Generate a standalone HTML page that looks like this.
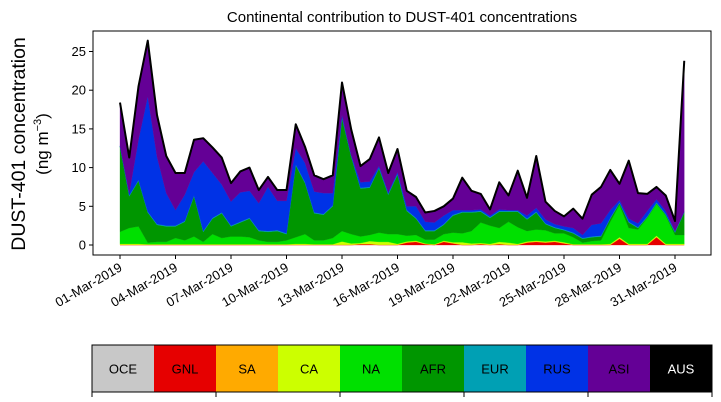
<!DOCTYPE html>
<html><head><meta charset="utf-8"><style>
body{margin:0;background:#fff}
svg{display:block;font-family:"Liberation Sans","DejaVu Sans",sans-serif}
</style></head><body>
<svg id="chart" width="721" height="402" viewBox="0 0 721 402">
<text x="402" y="22" font-size="15" text-anchor="middle">Continental contribution to DUST-401 concentrations</text>
<g transform="translate(25,144) rotate(-90)">
<text x="0" y="0" font-size="19.5" text-anchor="middle">DUST-401 concentration</text>
<text x="0" y="23" font-size="17" text-anchor="middle">(ng m<tspan font-size="11" dy="-7">−3</tspan><tspan dy="7">)</tspan></text>
</g>
<g id="plot"></g>
<g id="cbar"></g>
</svg>
<script>
const dayLabels=["01-Mar-2019","04-Mar-2019","07-Mar-2019","10-Mar-2019","13-Mar-2019","16-Mar-2019","19-Mar-2019","22-Mar-2019","25-Mar-2019","28-Mar-2019","31-Mar-2019"];
const yTicks=[0,5,10,15,20,25];
const regions=["OCE","GNL","SA","CA","NA","AFR","EUR","RUS","ASI","AUS"];
const regionColors=["#c8c8c8","#e60000","#ffaa00","#ccff00","#00e000","#009600","#00a0b4","#0032e6","#640096","#000000"];
const GNL=[0,0,0,0,0,0,0,0,0,0,0,0,0,0,0,0,0,0,0,0,0,0,0,0,0,0,0.1,0.1,0,0,0,0.3,0.4,0.1,0,0.4,0.2,0,0,0.1,0,0.1,0,0,0.3,0.4,0.3,0.4,0.2,0,0,0,0,0,0.8,0,0,0,1.0,0,0,0];
const SA=[0.05,0.05,0.05,0.05,0.05,0.05,0.05,0.05,0.05,0.05,0.05,0.05,0.05,0.05,0.05,0.05,0.05,0.05,0.05,0.05,0.05,0.05,0.05,0.05,0.05,0.05,0.05,0.05,0.05,0.05,0.05,0.05,0.05,0.05,0.05,0.05,0.05,0.05,0.05,0.05,0.05,0.05,0.05,0.05,0.05,0.05,0.05,0.05,0.05,0.05,0.05,0.05,0.05,0.05,0.05,0.05,0.05,0.05,0.05,0.05,0.05,0.05];
const CA=[0.1,0.1,0.1,0.05,0.05,0.05,0.05,0.05,0.05,0.05,0.05,0.05,0.05,0.05,0.05,0.05,0.05,0.05,0.05,0.1,0.1,0.05,0.05,0.05,0.4,0.15,0.1,0.35,0.35,0.35,0.1,0.1,0.1,0.05,0.05,0.1,0.1,0.3,0.15,0.1,0.1,0.25,0.25,0.1,0.1,0.1,0.1,0.1,0.1,0.05,0.05,0.05,0.05,0.1,0.15,0.1,0.1,0.1,0.15,0.1,0.1,0.1];
const NA=[1.55,2.05,2.25,0.2,0.3,0.3,0.8,0.5,1.0,0.3,1.3,0.8,1.0,1.0,0.9,0.5,0.3,0.3,0.5,0.85,1.25,0.5,0.5,0.8,1.35,1.2,0.85,0.8,1.2,1.0,1.25,0.75,0.75,0.5,0.6,0.85,1.25,1.15,1.6,2.65,2.35,1.8,2.7,2.15,1.35,1.45,1.45,0.95,1.15,0.9,0.2,0.4,0.5,2.85,4.2,2.05,1.85,3.35,4.1,3.65,1.15,1.15];
const AFR=[11.0,4.1,5.9,3.9,2.2,2.0,1.5,2.4,5.2,1.3,2.0,3.2,1.3,1.8,2.4,1.2,1.3,1.4,0.8,9.3,6.6,3.5,3.3,4.1,14.6,10.0,6.2,6.1,8.3,5.1,7.7,3.2,2.1,1.1,1.1,1.2,2.2,2.7,2.4,1.4,1.0,2.1,1.3,2.0,1.5,2.2,0.8,0.7,0.4,0.5,0.5,0.5,0.5,0.4,0.2,0.7,0.2,0.1,0.1,0.1,0.3,2.9];
const EUR=[0.1,0.1,0.1,0.1,0.1,0.1,0.1,0.1,0.1,0.1,0.1,0.1,0.1,0.1,0.1,0.1,0.1,0.1,0.1,0.1,0.1,0.1,0.1,0.1,0.1,0.1,0.1,0.1,0.1,0.1,0.1,0.1,0.1,0.1,0.1,0.1,0.1,0.1,0.1,0.1,0.1,0.1,0.1,0.1,0.1,0.1,0.1,0.1,0.1,0.1,0.1,0.1,0.1,0.1,0.1,0.1,0.1,0.1,0.1,0.1,0.1,0.1];
const RUS=[0,0.3,5.2,14.9,8.7,4.2,2.0,3.4,3.0,9.0,5.8,3.6,3.1,3.8,3.5,3.5,5.7,3.8,4.2,2.1,2.5,2.7,2.7,1.6,0.3,0.1,0.7,0.7,0.2,0.2,0.2,0.5,1.5,1.1,1.0,1.1,0.6,0.2,0.2,0.2,0.2,0.2,0.1,0.1,0.4,0.5,0.5,0.4,0.4,0.6,0.4,1.5,1.6,1.0,0.3,0.4,0.5,0.7,0.4,0.4,0.1,0];
const ASI=[5.6,4.6,6.9,7.2,5.4,4.8,4.8,2.8,4.2,3.0,3.3,3.5,2.4,2.7,3.0,1.7,1.3,1.4,1.4,3.1,2.1,2.1,1.8,2.3,4.2,3.3,2.1,2.9,3.7,2.5,3.0,2.0,1.2,1.2,1.5,1.2,1.5,4.2,2.5,2.0,0.8,3.5,1.9,5.1,2.3,6.7,2.3,1.7,1.3,2.5,2.1,3.9,4.7,5.2,2.1,7.5,3.9,2.2,1.6,2.0,1.3,19.5];

const NS="http://www.w3.org/2000/svg";
const L=93,R=711,T=31,B=255;
const xDay=d=>120+d*18.5;
const yv=v=>245-v*7.74;
const plot=document.getElementById('plot');
function mk(tag,attrs,parent){const e=document.createElementNS(NS,tag);for(const k in attrs)e.setAttribute(k,attrs[k]);(parent||plot).appendChild(e);return e;}

const stack=[[GNL,1],[SA,2],[CA,3],[NA,4],[AFR,5],[EUR,6],[RUS,7],[ASI,8]];
const n=ASI.length;
let base=new Array(n).fill(0);
const areaG=mk('g',{});


stack.forEach(([arr,ci])=>{
  const top=base.map((b,i)=>b+arr[i]);
  let d='';
  for(let i=0;i<n;i++)d+=(i?'L':'M')+xDay(i*0.5).toFixed(2)+','+yv(top[i]).toFixed(2);
  for(let i=n-1;i>=0;i--)d+='L'+xDay(i*0.5).toFixed(2)+','+yv(base[i]).toFixed(2);
  const p=mk('path',{d:d+'Z',fill:regionColors[ci],stroke:regionColors[ci],'stroke-width':0.3},areaG);
  
  
  base=top;
});
let ld='';
for(let i=0;i<n;i++)ld+=(i?'L':'M')+xDay(i*0.5).toFixed(2)+','+yv(base[i]).toFixed(2);
const tl=mk('path',{d:ld,fill:'none',stroke:'#000','stroke-width':2,'stroke-linejoin':'round'});



const frame=mk('rect',{x:L,y:T,width:R-L,height:B-T,fill:'none',stroke:'#000','stroke-width':1});



yTicks.forEach(v=>{
  const y=yv(v);
  const t=mk('line',{x1:L-4,x2:L,y1:y,y2:y,stroke:'#000'});
  
  
  const tx=mk('text',{x:L-7,y:y+4.5,'font-size':13,'text-anchor':'end'});
  tx.textContent=v;
  
  
});
dayLabels.forEach((lab,i)=>{
  const x=xDay(i*3);
  const t=mk('line',{x1:x,x2:x,y1:B,y2:B+4,stroke:'#000'});
  
  
  const tx=mk('text',{x:0,y:0,'font-size':13,'text-anchor':'end',transform:`translate(${x+3},${B+15}) rotate(-30)`});
  tx.textContent=lab;
  
  
});

const cb=document.getElementById('cbar');
const cx0=92,cw=62,cy=345,ch=47;
regions.forEach((r,i)=>{
  const g=mk('g',{},cb);
  
  
  mk('rect',{x:cx0+i*cw,y:cy,width:cw,height:ch,fill:regionColors[i]},g);
  const t=mk('text',{x:cx0+i*cw+cw/2,y:cy+ch/2+5,'font-size':13,'text-anchor':'middle',fill:r==='AUS'?'#fff':'#000'},g);
  t.textContent=r;
});
const cf=mk('rect',{x:cx0,y:cy,width:cw*10,height:ch,fill:'none',stroke:'#000'},cb);


for(let i=0;i<=10;i+=2){
  const t=mk('line',{x1:cx0+i*cw,x2:cx0+i*cw,y1:cy+ch,y2:cy+ch+5,stroke:'#000'},cb);
  
  
}
</script>
</body></html>
